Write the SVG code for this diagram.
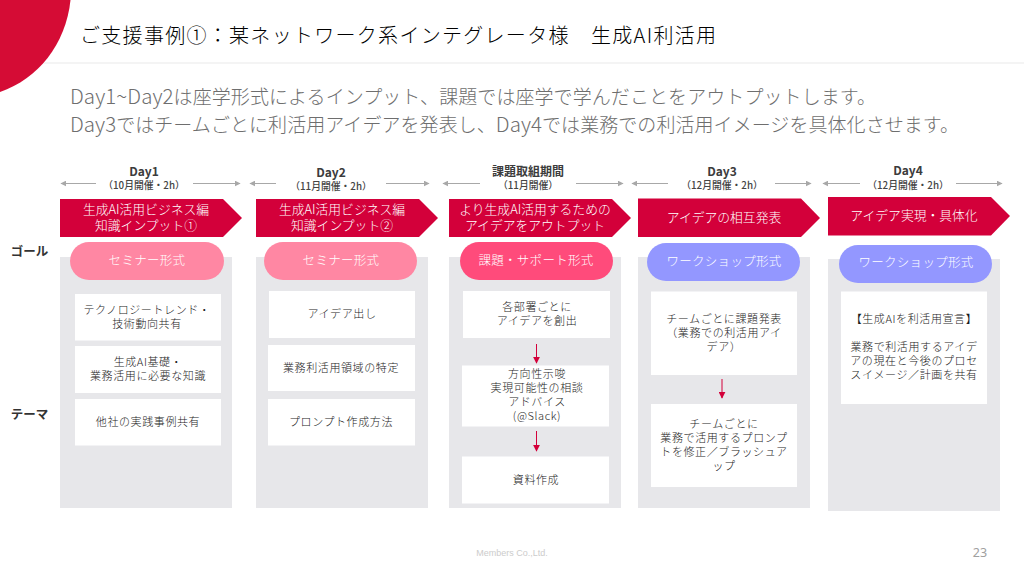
<svg xmlns="http://www.w3.org/2000/svg" width="1024" height="576" viewBox="0 0 1024 576">
<defs>
<marker id="g" viewBox="0 0 10 10" refX="9" refY="5" markerWidth="6" markerHeight="6" orient="auto-start-reverse" markerUnits="userSpaceOnUse"><path d="M0 0L10 5L0 10z" fill="#a8a8a8"/></marker>
<marker id="r" viewBox="0 0 10 10" refX="9" refY="5" markerWidth="7" markerHeight="7" orient="auto" markerUnits="userSpaceOnUse"><path d="M0 0L10 5L0 10z" fill="#d3003a"/></marker>
</defs>
<style>
text{font-family:"Noto Sans CJK JP","Noto Sans",sans-serif;text-anchor:middle}
.panel{fill:#e7e7ea}
.box{fill:#fff}
.ch{fill:#d3003a}
.w{fill:#fff;font-size:12.800px;font-weight:300}
.p{fill:#fff;font-size:12.500px;font-weight:300;letter-spacing:.3px}
.t{fill:#1c1c1c;font-size:11px;font-weight:300;letter-spacing:.6px}
.d{fill:#3c3c3c;font-size:12px;font-weight:700}
.s{fill:#444;font-size:9.800px;font-weight:500}
.l{fill:#333;font-size:12.500px;font-weight:700}
.ga{stroke:#a8a8a8;stroke-width:1;fill:none}
.ra{stroke:#d3003a;stroke-width:1;fill:none;marker-end:url(#r)}
.lead{text-anchor:start;font-size:19px;font-weight:300;fill:#6e6e6e}
.lat{font-size:20.500px}
</style>
<rect width="1024" height="576" fill="#fff"/>
<g id="header">
<path d="M0 0H70.500C66 44 38 79 0 92z" fill="#d50c35"/>
<rect x="44" y="62" width="980" height="2" fill="#f4f4f4"/>
<text x="80" y="43" style="text-anchor:start;font-size:20px;font-weight:300;fill:#000" textLength="636">ご支援事例①：某ネットワーク系インテグレータ様　生成AI利活用</text>
<text class="lead" x="70" y="104" textLength="806"><tspan class="lat">Day1~Day2</tspan>は座学形式によるインプット、課題では座学で学んだことをアウトプットします。</text>
<text class="lead" x="70" y="132" textLength="889"><tspan class="lat">Day3</tspan>ではチームごとに利活用アイデアを発表し、<tspan class="lat">Day4</tspan>では業務での利活用イメージを具体化させます。</text>
</g>
<g id="row-labels">
<text class="l" x="29.500" y="256">ゴール</text>
<text class="l" x="29.500" y="419">テーマ</text>
</g>
<g id="connectors">
<path class="ga" marker-start="url(#g)" d="M61 183.500H96"/><path class="ga" marker-end="url(#g)" d="M193 183.500H240"/>
<path class="ga" marker-start="url(#g)" d="M250 183.500H276"/><path class="ga" marker-end="url(#g)" d="M386 183.500H429"/>
<path class="ga" marker-start="url(#g)" d="M443 183.500H480"/><path class="ga" marker-end="url(#g)" d="M576 183.500H623"/>
<path class="ga" marker-start="url(#g)" d="M632 183.500H668"/><path class="ga" marker-end="url(#g)" d="M775 183.500H811"/>
<path class="ga" marker-start="url(#g)" d="M823 183.500H860"/><path class="ga" marker-end="url(#g)" d="M956 183.500H1002"/>
</g>
<g id="day1">
<rect class="panel" x="60" y="257" width="172" height="251"/>
<path class="ch" d="M60 199H223L242 218L223 237H60z"/>
<rect x="70" y="242" width="154" height="38" rx="19" fill="#ff87a3"/>
<text class="d" x="144" y="176">Day1</text><text class="s" x="144" y="188.500">（10月開催・2h）</text>
<text class="w" x="146" y="213.500">生成AI活用ビジネス編</text><text class="w" x="146" y="229.500">知識インプット①</text>
<text class="p" x="147" y="265">セミナー形式</text>
<rect class="box" x="75" y="294" width="146" height="46.500"/><rect class="box" x="75" y="346" width="146" height="47"/><rect class="box" x="75" y="399" width="146" height="46.500"/>
<text class="t" x="147" y="314">テクノロジートレンド・</text><text class="t" x="147" y="328">技術動向共有</text>
<text class="t" x="148" y="366">生成AI基礎・</text><text class="t" x="148" y="380">業務活用に必要な知識</text>
<text class="t" x="148" y="426">他社の実践事例共有</text>
</g>
<g id="day2">
<rect class="panel" x="256" y="257" width="172" height="251"/>
<path class="ch" d="M256 199H419L438 218L419 237H256z"/>
<rect x="264" y="242" width="153" height="38" rx="19" fill="#ff87a3"/>
<text class="d" x="331" y="177">Day2</text><text class="s" x="331" y="189.500">（11月開催・2h）</text>
<text class="w" x="342" y="213.500">生成AI活用ビジネス編</text><text class="w" x="342" y="229.500">知識インプット②</text>
<text class="p" x="341" y="265">セミナー形式</text>
<rect class="box" x="269" y="291" width="146" height="47"/><rect class="box" x="268" y="345" width="147" height="46"/><rect class="box" x="268" y="399" width="147" height="46.500"/>
<text class="t" x="342" y="318">アイデア出し</text>
<text class="t" x="341" y="372">業務利活用領域の特定</text>
<text class="t" x="341" y="426">プロンプト作成方法</text>
</g>
<g id="period">
<rect class="panel" x="449" y="257" width="172" height="251"/>
<path class="ch" d="M449 199H612L631 218L612 237H449z"/>
<rect x="460" y="242" width="153" height="38" rx="19" fill="#ff4b7b"/>
<text class="d" x="528" y="176">課題取組期間</text><text class="s" x="528" y="188.500">（11月開催）</text>
<text class="w" x="535" y="213.500">より生成AI活用するための</text><text class="w" x="535" y="229.500">アイデアをアウトプット</text>
<text class="p" x="536" y="265">課題・サポート形式</text>
<rect class="box" x="463" y="291" width="147" height="47"/><rect class="box" x="462" y="365.500" width="147" height="61"/><rect class="box" x="462" y="456.500" width="147" height="47"/>
<text class="t" x="537" y="311">各部署ごとに</text><text class="t" x="537" y="325">アイデアを創出</text>
<text class="t" x="537" y="378">方向性示唆</text><text class="t" x="537" y="392">実現可能性の相談</text><text class="t" x="537" y="406">アドバイス</text><text class="t" x="537" y="420">(@Slack)</text>
<text class="t" x="536" y="484">資料作成</text>
<path class="ra" d="M536.500 344V363"/><path class="ra" d="M536.500 431V451"/>
</g>
<g id="day3">
<rect class="panel" x="638" y="257" width="172" height="251"/>
<path class="ch" d="M638 198.500H801L820 218L801 237H638z"/>
<rect x="647" y="243" width="153" height="38" rx="19" fill="#9397ff"/>
<text class="d" x="722" y="176">Day3</text><text class="s" x="722" y="188.500">（12月開催・2h）</text>
<text class="w" x="724" y="222">アイデアの相互発表</text>
<text class="p" x="724" y="266">ワークショップ形式</text>
<rect class="box" x="651" y="291.500" width="146" height="83.500"/><rect class="box" x="651" y="404" width="146" height="83"/>
<text class="t" x="724" y="323">チームごとに課題発表</text><text class="t" x="724" y="337">（業務での利活用アイ</text><text class="t" x="724" y="351">デア）</text>
<text class="t" x="724" y="428">チームごとに</text><text class="t" x="724" y="442">業務で活用するプロンプ</text><text class="t" x="724" y="456">トを修正／ブラッシュア</text><text class="t" x="724" y="470">ップ</text>
<path class="ra" d="M722 379V398"/>
</g>
<g id="day4">
<rect class="panel" x="828" y="259" width="172" height="252"/>
<path class="ch" d="M828 197H991L1010 216L991 235.500H828z"/>
<rect x="839" y="245" width="153" height="38" rx="19" fill="#9397ff"/>
<text class="d" x="908" y="175">Day4</text><text class="s" x="908" y="188.500">（12月開催・2h）</text>
<text class="w" x="914" y="220">アイデア実現・具体化</text>
<text class="p" x="916" y="267">ワークショップ形式</text>
<rect class="box" x="841" y="291.500" width="146" height="112.500"/>
<text class="t" x="914" y="323">【生成AIを利活用宣言】</text><text class="t" x="914" y="351">業務で利活用するアイデ</text><text class="t" x="914" y="365">アの現在と今後のプロセ</text><text class="t" x="914" y="379">スイメージ／計画を共有</text>
</g>
<g id="footer">
<text x="512" y="555.500" style="font-size:9px;font-family:'Liberation Sans',sans-serif;fill:#ccc">Members Co.,Ltd.</text>
<text x="980" y="557" style="font-size:12.500px;font-family:'Noto Sans',sans-serif;fill:#a0a0a0">23</text>
</g>
</svg>
